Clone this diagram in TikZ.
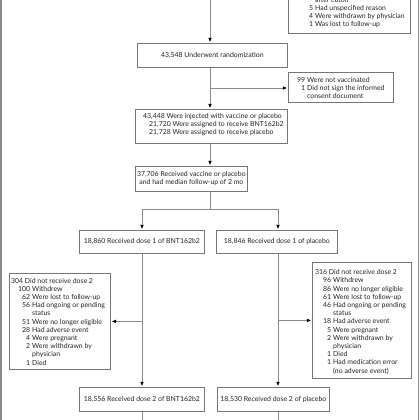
\documentclass[tikz,border=0pt]{standalone}
\usepackage{fontspec}
\setmainfont{Lato}
\usetikzlibrary{arrows.meta,calc}
\definecolor{ln}{HTML}{8A8A8A}
\definecolor{bx}{HTML}{777777}
\definecolor{tx}{HTML}{222222}
\definecolor{fr}{HTML}{8C8C8C}
\newcommand\nm[3]{\makebox[#1][r]{#2}\hspace{2pt}#3}
\newcommand\tfont{\fontsize{6.9}{8.2}\selectfont}
\begin{document}
\begin{tikzpicture}[x=1pt,y=-1pt,
  box/.style={draw=bx,line width=0.8pt,rectangle,inner sep=0pt,anchor=north west,
    text=tx,font=\tfont,align=center},
  lst/.style={inner sep=0pt,anchor=base west,text=tx,font=\tfont},
  conn/.style={draw=ln,line width=0.8pt},
  arr/.style={conn,-{Triangle[length=4pt,width=3.2pt,color=black]},shorten >=1.2pt},
  frame/.style={draw=fr,line width=1.3pt}]
\useasboundingbox (0,0) rectangle (420,420);
\clip (0,0) rectangle (420,420);
% frame edges
\draw[frame] (1,-5) -- (1,425);
\draw[frame] (418.5,-5) -- (418.5,425);
% named coordinates
\coordinate (top) at (210,-5);
\coordinate (b1) at (210,88);
\coordinate (sp) at (210,209);
\coordinate (lx) at (142,0);
\coordinate (rx) at (278,0);
\coordinate (bot) at (0,425);
% boxes
\node[box,minimum width=122pt,minimum height=93pt] (excl) at (288,-60) {};
\node[lst] (exclt) at (305,2.3) {\begin{tabular}[t]{@{}l@{}}
\nm{8pt}{}{after cutoff}\\
\nm{8pt}{5}{Had unspecified reason}\\
\nm{8pt}{4}{Were withdrawn by physician}\\
\nm{8pt}{1}{Was lost to follow-up}
\end{tabular}};
\node[box,minimum width=150pt,minimum height=24pt] (rand) at (137,43) {43,548 Underwent randomization};
\node[box,minimum width=105pt,minimum height=30pt] (nv) at (288,72) {};
\node[lst] (nvt) at (298,82.5) {\begin{tabular}[t]{@{}l@{}}
\nm{7pt}{99}{Were not vaccinated}\\
\nm{7pt}{1}{Did not sign the informed}\\
\nm{7pt}{}{consent document}
\end{tabular}};
\node[box,minimum width=152pt,minimum height=34pt] (inj) at (135,109) {};
\node[lst] (injt) at (143,118.5) {\begin{tabular}[t]{@{}l@{}}
43,448 Were injected with vaccine or placebo\\
\hspace{6pt}21,720 Were assigned to receive BNT162b2\\
\hspace{6pt}21,728 Were assigned to receive placebo
\end{tabular}};
\node[box,minimum width=112pt,minimum height=25pt] (fu) at (135,166) {37,706 Received vaccine or placebo\\and had median follow-up of 2 mo};
\node[box,minimum width=125pt,minimum height=23pt] (d1a) at (79,230) {18,860 Received dose 1 of BNT162b2};
\node[box,minimum width=121pt,minimum height=23pt] (d1b) at (216,230) {18,846 Received dose 1 of placebo};
\node[box,minimum width=101pt,minimum height=96pt] (nd1) at (9,273) {};
\node[lst] (nd1t) at (11,283) {\begin{tabular}[t]{@{}l@{}}
304 Did not receive dose 2\\
\nm{19pt}{100}{Withdrew}\\
\nm{19pt}{62}{Were lost to follow-up}\\
\nm{19pt}{56}{Had ongoing or pending}\\
\nm{19pt}{}{status}\\
\nm{19pt}{51}{Were no longer eligible}\\
\nm{19pt}{28}{Had adverse event}\\
\nm{19pt}{4}{Were pregnant}\\
\nm{19pt}{2}{Were withdrawn by}\\
\nm{19pt}{}{physician}\\
\nm{19pt}{1}{Died}
\end{tabular}};
\node[box,minimum width=99pt,minimum height=116pt] (nd2) at (312,262) {};
\node[lst] (nd2t) at (315,274.7) {\begin{tabular}[t]{@{}l@{}}
316 Did not receive dose 2\\
\nm{16pt}{96}{Withdrew}\\
\nm{16pt}{86}{Were no longer eligible}\\
\nm{16pt}{61}{Were lost to follow-up}\\
\nm{16pt}{46}{Had ongoing or pending}\\
\nm{16pt}{}{status}\\
\nm{16pt}{18}{Had adverse event}\\
\nm{16pt}{5}{Were pregnant}\\
\nm{16pt}{2}{Were withdrawn by}\\
\nm{16pt}{}{physician}\\
\nm{16pt}{1}{Died}\\
\nm{16pt}{1}{Had medication error}\\
\nm{16pt}{}{(no adverse event)}
\end{tabular}};
\node[box,minimum width=125pt,minimum height=24pt] (d2a) at (79,387) {18,556 Received dose 2 of BNT162b2};
\node[box,minimum width=112pt,minimum height=24pt] (d2b) at (217,387) {18,530 Received dose 2 of placebo};
% connectors
\draw[arr] (top) -- (top |- rand.north);
\draw[arr] (rand.south -| top) -- (inj.north -| top);
\draw[arr] (b1) -- (nv.west |- b1);
\draw[arr] (inj.south -| top) -- (fu.north -| top);
\draw[conn] (fu.south -| top) -- (sp);
\draw[conn] (sp -| lx) -- (sp -| rx);
\draw[arr] (sp -| lx) -- (d1a.north -| lx);
\draw[arr] (sp -| rx) -- (d1b.north -| rx);
\draw[arr] (d1a.south -| lx) -- (d2a.north -| lx);
\draw[arr] (d1b.south -| rx) -- (d2b.north -| rx);
\draw[arr] (nd1.east -| lx) -- (nd1.east);
\draw[arr] (nd2.west -| rx) -- (nd2.west);
\draw[conn] (d2a.south -| lx) -- (bot -| lx);
\draw[conn] (d2b.south -| rx) -- (bot -| rx);
\end{tikzpicture}
\end{document}
